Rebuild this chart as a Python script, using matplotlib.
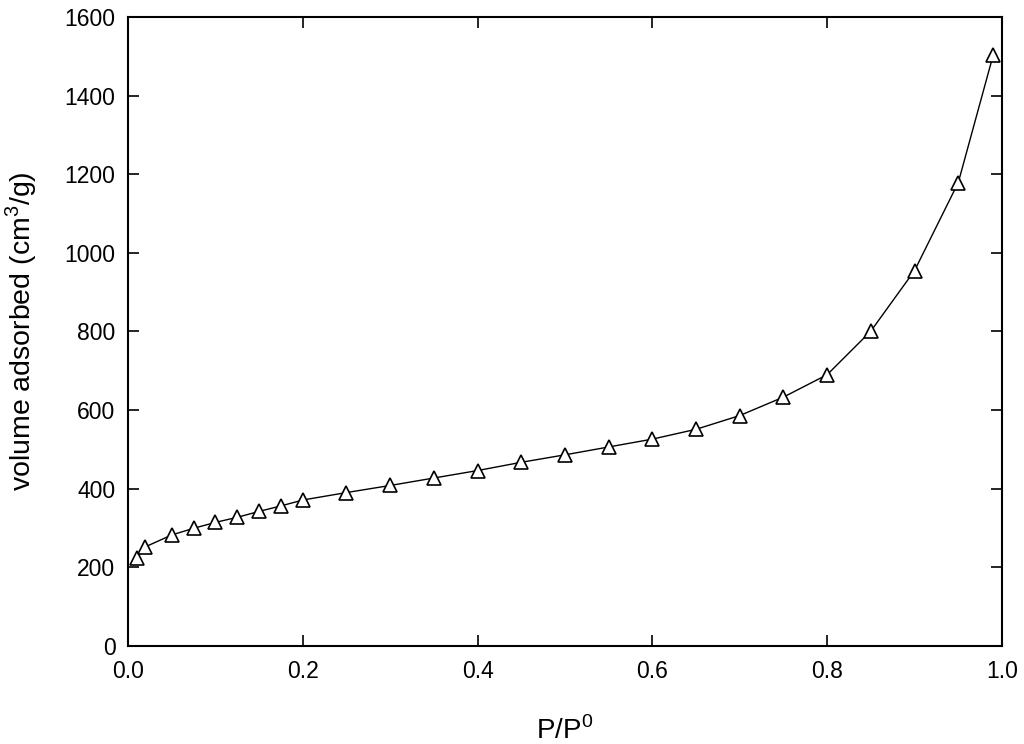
## nitrogen adsorption isotherm (volume adsorbed vs relative pressure)

import matplotlib.pyplot as plt

plt.rcParams['font.family'] = ['Liberation Sans', 'DejaVu Sans']
plt.rcParams['mathtext.fontset'] = 'custom'
plt.rcParams['mathtext.rm'] = 'Liberation Sans'

# relative pressure P/P0 and adsorbed volume (cm3/g)
rel_pressure = [0.01, 0.02, 0.05, 0.075, 0.10, 0.125, 0.15, 0.175, 0.20, 0.25,
                0.30, 0.35, 0.40, 0.45, 0.50, 0.55, 0.60, 0.65, 0.70, 0.75,
                0.80, 0.85, 0.90, 0.95, 0.99]
volume = [223, 252, 282, 299, 314, 327, 342, 356, 371, 390,
          408, 427, 446, 467, 486, 506, 526, 551, 586, 633,
          690, 801, 955, 1179, 1504]

x_ticks = [0.0, 0.2, 0.4, 0.6, 0.8, 1.0]
y_ticks = [0, 200, 400, 600, 800, 1000, 1200, 1400, 1600]

fig = plt.figure(figsize=(10.24, 7.44), dpi=100)
ax = fig.add_axes([0.125, 0.132, 0.8535, 0.845])

ax.plot(rel_pressure, volume, color='black', linewidth=1.0,
        marker='^', markersize=10, markerfacecolor='white',
        markeredgecolor='black', markeredgewidth=1.2)

ax.set_xlim(0, 1.0)
ax.set_ylim(0, 1600)
ax.set_xticks(x_ticks)
ax.set_xticklabels(['%.1f' % v for v in x_ticks])
ax.set_yticks(y_ticks)

ax.tick_params(direction='in', length=8, width=1.2, top=True, right=True,
               labelsize=16.5, colors='black')
ax.tick_params(axis='x', pad=10)
ax.tick_params(axis='y', pad=9)
for side in ax.spines.values():
    side.set_linewidth(1.5)

ax.set_xlabel('P/P$^{\\mathrm{0}}$', fontsize=20, labelpad=24)
ax.set_ylabel('volume adsorbed (cm$^{\\mathrm{3}}$/g)', fontsize=20.5, labelpad=18)

fig.savefig('out.png', dpi=100)
